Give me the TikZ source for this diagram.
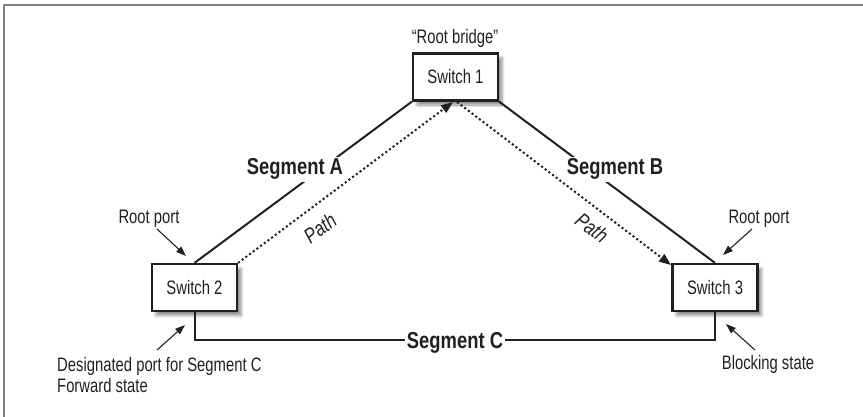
\documentclass[tikz,border=0pt]{standalone}
\usepackage{fontspec}
\setmainfont{Liberation Sans}[FakeStretch=0.76]
\newfontfamily\segfont{Liberation Sans}[FakeStretch=0.8]
\usetikzlibrary{arrows.meta,shadows.blur}
\definecolor{ink}{HTML}{231F20}
\definecolor{framegray}{HTML}{808080}
\begin{document}
\begin{tikzpicture}[x=1pt,y=-1pt,
  switchbox/.style={draw=ink, line width=2.2pt, fill=white,
    minimum width=85pt, minimum height=47pt, inner sep=0pt,
    font=\fontsize{19.5}{21}\selectfont, text=ink,
    blur shadow={shadow xshift=4pt, shadow yshift=-4.5pt,
      shadow blur radius=3pt, shadow blur steps=6, shadow opacity=45}},
  segline/.style={draw=ink, line width=2pt},
  seglabel/.style={fill=white, inner sep=2pt, anchor=base,
    font=\segfont\fontsize{23}{25}\selectfont\bfseries, text=ink},
  pathline/.style={draw=ink, line width=2pt, dash pattern=on 2.1pt off 2.5pt,
    -{Triangle[length=12pt,width=9pt]}},
  pathlabel/.style={font=\segfont\fontsize{21}{22}\selectfont\itshape, text=ink, inner sep=0pt},
  remark/.style={font=\fontsize{19.5}{21}\selectfont, text=ink, inner sep=0pt},
  tagarrow/.style={draw=ink, line width=1.1pt, -{Triangle[length=10pt,width=7pt]}}
]
\useasboundingbox (0,0) rectangle (863,417);

% outer frame (top and left edges only)
\draw[framegray, line width=2pt] (4,417) -- (4,5) -- (863,5);

% switches
\node[switchbox] (s1) at (455.5,77) {Switch 1};
\node[switchbox] (s2) at (194.5,287.5) {Switch 2};
\node[switchbox] (s3) at (715,287.5) {Switch 3};

\node[remark, anchor=base] (rb) at (455,44) {“Root bridge”};

% network segments
\draw[segline] (s2.north) -- (s1.south west);
\draw[segline] (s1.south east) -- (s3.north);
\coordinate (cl) at (194.5,340);
\coordinate (cr) at (715,340);
\draw[segline] (s2.south) -- (cl) -- (cr) -- (s3.south);

\node[seglabel] (la) at (295,175) {Segment A};
\node[seglabel] (lb) at (615,175) {Segment B};
\node[seglabel] (lc) at (455,348) {Segment C};

% spanning-tree paths to the root bridge and on to switch 3
\coordinate (p1) at (453,102);
\coordinate (p2) at (457,102);
\coordinate (p3) at (671,265);
\draw[pathline] (s2.north east) -- (p1);
\draw[pathline] (p2) -- (p3);
\node[pathlabel, rotate=36.7] (pa) at (320,228) {Path};
\node[pathlabel, rotate=-37] (pb) at (592,228) {Path};

% port annotations
\node[remark, anchor=base] (rpl) at (149,224) {Root port};
\node[remark, anchor=base] (rpr) at (759,224) {Root port};
\node[remark, anchor=north west, align=left] (dp) at (57,357)
  {Designated port for Segment C\\Forward state};
\node[remark, anchor=base] (bs) at (768,369) {Blocking state};

\coordinate (rplTail) at (157,229);
\coordinate (rplTip)  at (186,256);
\coordinate (rprTail) at (752,229);
\coordinate (rprTip)  at (723,255);
\coordinate (dpTail)  at (157,350);
\coordinate (dpTip)   at (185,325);
\coordinate (bsTail)  at (755,350);
\coordinate (bsTip)   at (726,324);
\draw[tagarrow] (rplTail) -- (rplTip);
\draw[tagarrow] (rprTail) -- (rprTip);
\draw[tagarrow] (dpTail) -- (dpTip);
\draw[tagarrow] (bsTail) -- (bsTip);
\end{tikzpicture}
\end{document}
